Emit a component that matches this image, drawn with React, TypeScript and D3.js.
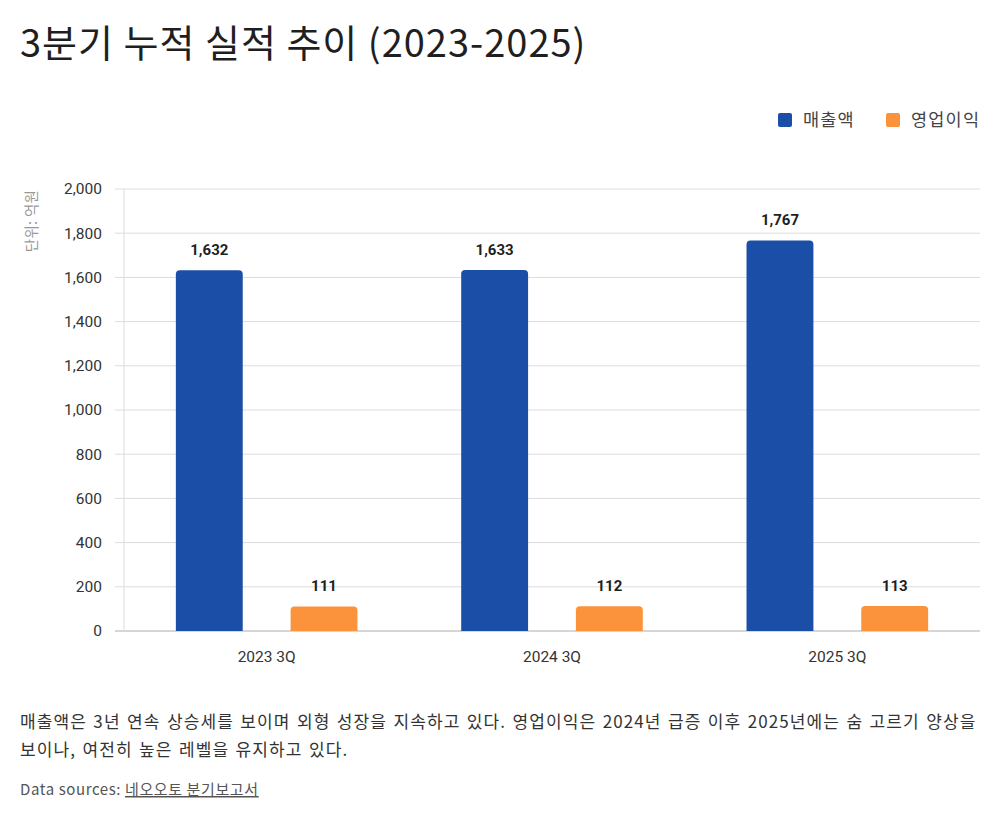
import React from "react";
import * as d3 from "d3";

const categories = ["2023 3Q", "2024 3Q", "2025 3Q"];
const seriesNames = ["매출액", "영업이익"];
const revenue = [1632, 1633, 1767];
const operatingProfit = [111, 112, 113];
const yTicks = [0, 200, 400, 600, 800, 1000, 1200, 1400, 1600, 1800, 2000];
const colors = ["#1a4ea7", "#fb933c"];

const FONT = "Roboto, 'Noto Sans CJK KR', sans-serif";
const KR = "'Noto Sans CJK KR', Roboto, sans-serif";

export default function App() {
  const width = 1000;
  const height = 820;
  const margin = { top: 189, right: 20, bottom: 189, left: 124 };
  const innerW = width - margin.left - margin.right;
  const y0 = 631;

  const x = d3.scaleBand().domain(categories).range([margin.left, width - margin.right]).paddingInner(0).paddingOuter(0);
  const xInner = d3.scaleBand().domain(seriesNames).range([0, x.bandwidth()]).paddingInner(0.417).paddingOuter(0.452);
  const y = d3.scaleLinear().domain([0, 2000]).range([y0, margin.top]);
  const fmt = d3.format(",");

  const values = [revenue, operatingProfit];

  const roundedTop = (bx: number, by: number, bw: number, bh: number, r: number) => {
    const p = d3.path();
    p.moveTo(bx, by + bh);
    p.lineTo(bx, by + r);
    p.quadraticCurveTo(bx, by, bx + r, by);
    p.lineTo(bx + bw - r, by);
    p.quadraticCurveTo(bx + bw, by, bx + bw, by + r);
    p.lineTo(bx + bw, by + bh);
    p.closePath();
    return p.toString();
  };

  return (
    <svg width={width} height={height} style={{ position: "absolute", left: 0, top: 0, fontFamily: FONT }}>
      <rect width={width} height={height} fill="#fff" />
      <text x={20} y={57} fontSize={38} letterSpacing={1} fill="#1f1f1f" fontFamily={KR}>3분기 누적 실적 추이 (2023-2025)</text>

      {/* legend */}
      {seriesNames.map((s, i) => {
        const lx = i === 0 ? 778 : 886;
        return (
          <g key={s}>
            <rect x={lx} y={113} width={14} height={14} rx={2} fill={colors[i]} />
            <text x={lx + 25} y={126} fontSize={17.5} letterSpacing={1.2} fill="#444" fontFamily={KR}>{s}</text>
          </g>
        );
      })}

      {/* grid */}
      {yTicks.map((t) => (
        <g key={t}>
          <line x1={115} x2={margin.left + innerW} y1={y(t)} y2={y(t)} stroke={t === 0 ? "#c8c8c8" : "#dcdcdc"} strokeWidth={t === 0 ? 1.5 : 1} />
          <text x={102} y={y(t)} dy="0.35em" textAnchor="end" fontSize={15.5} fill="#333">{fmt(t)}</text>
        </g>
      ))}
      <line x1={margin.left} x2={margin.left} y1={margin.top} y2={y0} stroke="#dcdcdc" />

      <text transform={`translate(37,221) rotate(-90)`} textAnchor="middle" fontSize={14.5} letterSpacing={0.3} fill="#999" fontFamily={KR}>단위: 억원</text>

      {/* bars */}
      {categories.map((c, ci) => (
        <g key={c}>
          {seriesNames.map((s, si) => {
            const v = values[si][ci];
            const bx = (x(c) as number) + (xInner(s) as number);
            const bw = xInner.bandwidth();
            const by = y(v);
            return (
              <g key={s}>
                <path d={roundedTop(bx, by, bw, y0 - by, 4)} fill={colors[si]} />
                <text x={bx + bw / 2} y={by - 15} textAnchor="middle" fontSize={15} fontWeight={700} fill="#1f1f1f">{fmt(v)}</text>
              </g>
            );
          })}
          <text x={(x(c) as number) + x.bandwidth() / 2} y={662} textAnchor="middle" fontSize={15.5} fill="#333">{c}</text>
        </g>
      ))}

      <g fontFamily={KR} fontSize={17} letterSpacing={1.1} wordSpacing={1.5} fill="#333">
        <text x={20} y={728}>매출액은 3년 연속 상승세를 보이며 외형 성장을 지속하고 있다. 영업이익은 2024년 급증 이후 2025년에는 숨 고르기 양상을</text>
        <text x={20} y={756}>보이나, 여전히 높은 레벨을 유지하고 있다.</text>
      </g>
      <text x={20} y={795} fontSize={15} letterSpacing={0.6} fill="#555" fontFamily={KR}>
        Data sources: <tspan style={{ textDecoration: "underline" }}>네오오토 분기보고서</tspan>
      </text>
    </svg>
  );
}
